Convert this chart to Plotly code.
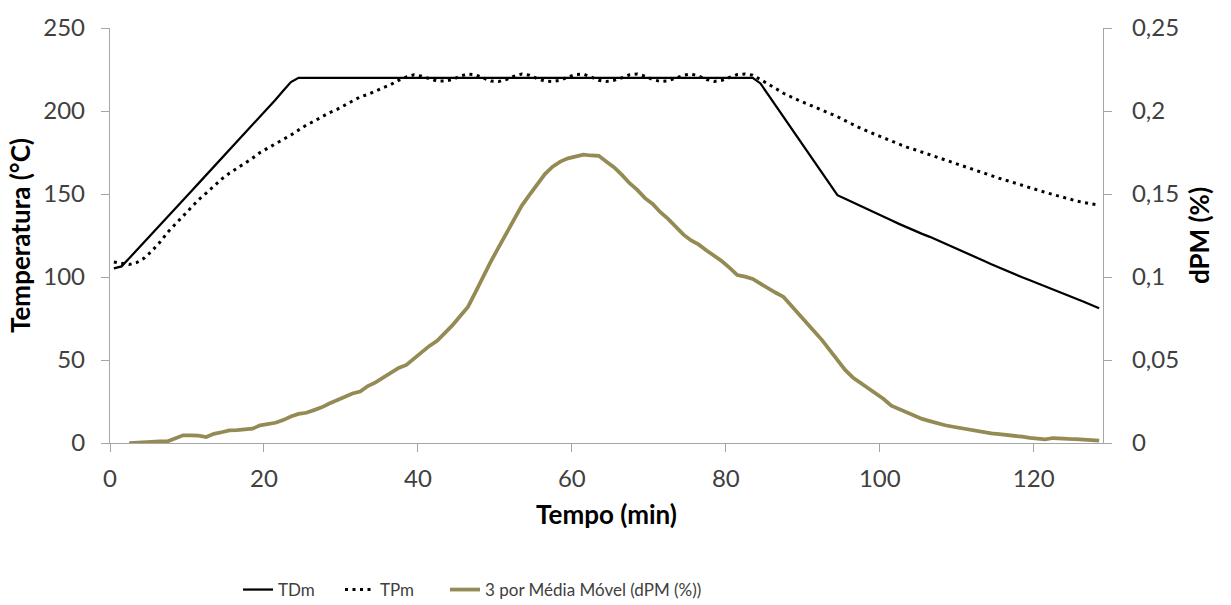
import plotly.graph_objects as go

# Tempo (min)
tempo = [0.5, 1.5, 2.5, 3.5, 4.5, 5.5, 6.5, 7.5, 8.5, 9.5,
         10.5, 11.5, 12.5, 13.5, 14.5, 15.5, 16.5, 17.5, 18.5, 19.5,
         20.5, 21.5, 22.5, 23.5, 24.5, 25.5, 26.5, 27.5, 28.5, 29.5,
         30.5, 31.5, 32.5, 33.5, 34.5, 35.5, 36.5, 37.5, 38.5, 39.5,
         40.5, 41.5, 42.5, 43.5, 44.5, 45.5, 46.5, 47.5, 48.5, 49.5,
         50.5, 51.5, 52.5, 53.5, 54.5, 55.5, 56.5, 57.5, 58.5, 59.5,
         60.5, 61.5, 62.5, 63.5, 64.5, 65.5, 66.5, 67.5, 68.5, 69.5,
         70.5, 71.5, 72.5, 73.5, 74.5, 75.5, 76.5, 77.5, 78.5, 79.5,
         80.5, 81.5, 82.5, 83.5, 84.5, 85.5, 86.5, 87.5, 88.5, 89.5,
         90.5, 91.5, 92.5, 93.5, 94.5, 95.5, 96.5, 97.5, 98.5, 99.5,
         100.5, 101.5, 102.5, 103.5, 104.5, 105.5, 106.5, 107.5, 108.5, 109.5,
         110.5, 111.5, 112.5, 113.5, 114.5, 115.5, 116.5, 117.5, 118.5, 119.5,
         120.5, 121.5, 122.5, 123.5, 124.5, 125.5, 126.5, 127.5, 128.5]

# TDm (°C)
tdm = [105.2, 106.4, 111.3, 116.4, 121.4, 126.4, 131.4, 136.4, 141.4, 146.4,
       151.4, 156.4, 161.4, 166.4, 171.4, 176.4, 181.4, 186.4, 191.4, 196.4,
       201.5, 206.8, 212.2, 217.4, 220.0, 220.0, 220.0, 220.0, 220.0, 220.0,
       220.0, 220.0, 220.0, 220.0, 220.0, 220.0, 220.0, 220.0, 220.0, 220.0,
       220.0, 220.0, 220.0, 220.0, 220.0, 220.0, 220.0, 220.0, 220.0, 220.0,
       220.0, 220.0, 220.0, 220.0, 220.0, 220.0, 220.0, 220.0, 220.0, 220.0,
       220.0, 220.0, 220.0, 220.0, 220.0, 220.0, 220.0, 220.0, 220.0, 220.0,
       220.0, 220.0, 220.0, 220.0, 220.0, 220.0, 220.0, 220.0, 220.0, 220.0,
       220.0, 220.0, 220.0, 220.0, 216.6, 209.8, 203.0, 196.2, 189.4, 182.6,
       175.8, 169.0, 162.1, 155.3, 149.3, 147.2, 145.1, 143.0, 140.8, 138.6,
       136.4, 134.2, 132.0, 129.9, 128.0, 126.0, 124.2, 122.2, 120.2, 118.2,
       116.1, 114.0, 111.9, 109.8, 107.7, 105.6, 103.6, 101.7, 99.8, 98.0,
       96.2, 94.3, 92.5, 90.8, 89.0, 87.1, 85.1, 83.1, 81.2]

# TPm (°C)
tpm = [109.0, 108.2, 107.5, 108.8, 111.5, 116.0, 121.0, 127.0, 132.0, 136.5,
       142.0, 146.5, 150.5, 155.0, 159.0, 162.5, 165.5, 168.0, 171.5, 175.0,
       177.5, 180.5, 182.5, 185.5, 188.5, 191.5, 193.8, 196.5, 199.0, 201.0,
       203.5, 206.0, 208.5, 210.0, 212.0, 214.0, 216.0, 218.5, 220.5, 221.8,
       221.0, 219.5, 218.0, 218.0, 219.0, 221.0, 222.3, 221.8, 219.8, 218.0,
       217.8, 219.0, 221.0, 222.3, 221.5, 219.5, 218.0, 217.8, 218.5, 220.5,
       222.0, 222.2, 220.5, 218.5, 217.8, 218.5, 220.0, 221.8, 222.3, 221.0,
       219.0, 217.8, 218.2, 219.8, 221.5, 222.3, 221.0, 219.0, 217.8, 218.5,
       220.2, 222.0, 222.3, 221.5, 219.0, 216.5, 213.5, 210.7, 208.3, 206.3,
       204.4, 202.4, 200.6, 198.7, 196.6, 194.2, 191.8, 189.6, 187.6, 185.7,
       183.7, 181.6, 179.8, 178.2, 176.8, 175.2, 173.8, 172.2, 170.7, 169.2,
       167.6, 165.8, 164.2, 162.6, 161.1, 159.5, 158.1, 156.6, 155.2, 153.8,
       152.5, 151.0, 149.7, 148.3, 147.0, 145.9, 144.8, 143.9, 143.3]

# 3 por Média Móvel (dPM (%))
dpm = [None, None, 0.0, 0.0003, 0.0008, 0.0010, 0.0010, 0.0010, 0.0030, 0.0046,
       0.0046, 0.0044, 0.0036, 0.0055, 0.0065, 0.0076, 0.0078, 0.0083, 0.0086, 0.0106,
       0.0113, 0.0122, 0.0138, 0.0160, 0.0175, 0.0182, 0.0198, 0.0215, 0.0238, 0.0260,
       0.0280, 0.0298, 0.0310, 0.0343, 0.0365, 0.0396, 0.0422, 0.0452, 0.0470, 0.0510,
       0.0545, 0.0585, 0.0616, 0.0660, 0.0710, 0.0765, 0.0820, 0.0910, 0.1005, 0.1095,
       0.1180, 0.1265, 0.1350, 0.1430, 0.1495, 0.1555, 0.1620, 0.1665, 0.1695, 0.1715,
       0.1725, 0.1737, 0.1732, 0.1730, 0.1695, 0.1660, 0.1615, 0.1565, 0.1525, 0.1475,
       0.1440, 0.1390, 0.1350, 0.1300, 0.1255, 0.1220, 0.1195, 0.1160, 0.1130, 0.1095,
       0.1055, 0.1012, 0.1002, 0.0988, 0.0960, 0.0930, 0.0905, 0.0880, 0.0830, 0.0778,
       0.0725, 0.0672, 0.0620, 0.0560, 0.0495, 0.0440, 0.0395, 0.0362, 0.0332, 0.0300,
       0.0265, 0.0225, 0.0205, 0.0188, 0.0166, 0.0145, 0.0132, 0.0118, 0.0107, 0.0098,
       0.0090, 0.0081, 0.0070, 0.0062, 0.0058, 0.0053, 0.0049, 0.0044, 0.0038, 0.0031,
       0.0024, 0.0022, 0.0030, 0.0025, 0.0025, 0.0024, 0.0023, 0.0018, 0.0014]

x_ticks = [0, 20, 40, 60, 80, 100, 120]
y_ticks = [0, 50, 100, 150, 200, 250]
y2_ticks = [0, 0.05, 0.1, 0.15, 0.2, 0.25]
y2_ticktext = ["0", "0,05", "0,1", "0,15", "0,2", "0,25"]

AX = "#A6A6A6"
TXT = "#404040"
FONT = "Lato, 'Open Sans', sans-serif"
W, H = 1231, 605

fig = go.Figure()
fig.add_trace(go.Scatter(x=tempo, y=tdm, name="TDm", mode="lines", legend="legend",
                         line=dict(color="black", width=2.25)))
fig.add_trace(go.Scatter(x=tempo, y=tpm, name="TPm", mode="lines", legend="legend2",
                         line=dict(color="black", width=3, dash="3px,4.5px")))
fig.add_trace(go.Scatter(x=tempo, y=dpm, name="3 por Média Móvel (dPM (%))",
                         mode="lines", yaxis="y2", legend="legend3",
                         line=dict(color="#948A54", width=3.75)))

def axis_common(standoff):
    return dict(showline=True, linecolor=AX, linewidth=1.3, ticks="outside",
                ticklen=8, tickcolor=AX, tickwidth=1.3, showgrid=False,
                zeroline=False, ticklabelstandoff=standoff,
                tickfont=dict(size=24, color=TXT, family=FONT))

TITLE_FONT = dict(size=26, color="black", family=FONT)

def legend_at(px_left):
    return dict(orientation="h", x=px_left / W, xref="container", xanchor="left",
                y=15 / H, yref="container", yanchor="middle",
                font=dict(size=17, color=TXT, family=FONT),
                bgcolor="rgba(0,0,0,0)", borderwidth=0)

fig.update_layout(
    width=W, height=H,
    margin=dict(l=110, r=128, t=26, b=162, pad=0),
    paper_bgcolor="white", plot_bgcolor="white",
    font=dict(family=FONT, color=TXT, size=20),
    showlegend=True,
    xaxis=dict(range=[0, 129], tickvals=x_ticks, **axis_common(6),
               title=dict(text="<b>Tempo (min)</b>", standoff=14, font=TITLE_FONT)),
    yaxis=dict(range=[0, 250], tickvals=y_ticks, **axis_common(11),
               title=dict(text="<b>Temperatura (°C)</b>", standoff=5, font=TITLE_FONT)),
    yaxis2=dict(range=[0, 0.25], tickvals=y2_ticks, ticktext=y2_ticktext,
                overlaying="y", side="right", **axis_common(15),
                title=dict(text="<b>dPM (%)</b>", standoff=12, font=TITLE_FONT)),
    legend=legend_at(238),
    legend2=legend_at(340),
    legend3=legend_at(445),
)

fig.write_html("out.html")
